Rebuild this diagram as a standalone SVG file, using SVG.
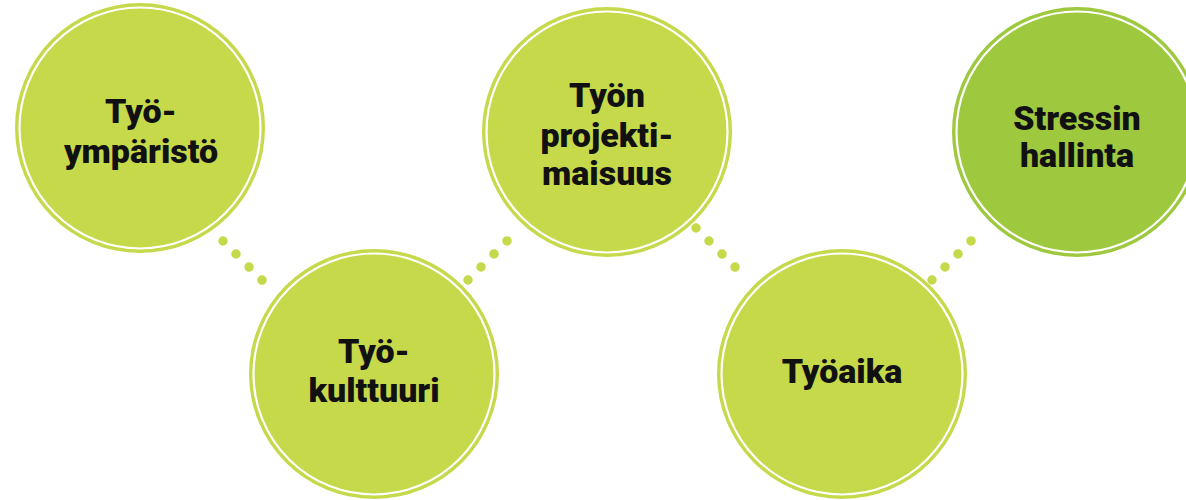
<svg xmlns="http://www.w3.org/2000/svg" width="1186" height="500" viewBox="0 0 1186 500">
<style>
.c{fill:#c6d94b}
.c5{fill:#9ec93f}
.ring{fill:none;stroke:#ffffff;stroke-width:2.2}
.t{font-family:Roboto,"Liberation Sans",sans-serif;font-weight:900;font-size:34px;fill:#111111;text-anchor:middle}
.dots{fill:none;stroke:#c6d94b;stroke-width:9.5;stroke-linecap:round;stroke-dasharray:0 18.4}
</style>
<rect width="1186" height="500" fill="#ffffff"/>
<g id="n1">
<circle class="c" cx="140" cy="128" r="125"/>
<circle class="ring" cx="140" cy="128" r="120.5"/>
<text class="t" x="141" y="123">Työ-</text>
<text class="t" x="141" y="163">ympäristö</text>
</g>
<g id="n2">
<circle class="c" cx="374" cy="374" r="125"/>
<circle class="ring" cx="374" cy="374" r="120.5"/>
<text class="t" x="374" y="363">Työ-</text>
<text class="t" x="374" y="402">kulttuuri</text>
</g>
<g id="n3">
<circle class="c" cx="607" cy="132" r="125"/>
<circle class="ring" cx="607" cy="132" r="120.5"/>
<text class="t" x="607" y="107">Työn</text>
<text class="t" x="607" y="147">projekti-</text>
<text class="t" x="607" y="185">maisuus</text>
</g>
<g id="n4">
<circle class="c" cx="842" cy="374" r="125"/>
<circle class="ring" cx="842" cy="374" r="120.5"/>
<text class="t" x="842" y="383">Työaika</text>
</g>
<g id="n5">
<circle class="c5" cx="1077" cy="132" r="125"/>
<circle class="ring" cx="1077" cy="132" r="120.5"/>
<text class="t" x="1077" y="130">Stressin</text>
<text class="t" x="1077" y="167">hallinta</text>
</g>
<g id="connectors">
<line class="dots" x1="223" y1="241" x2="275" y2="293"/>
<line class="dots" x1="468" y1="280" x2="520" y2="228"/>
<line class="dots" x1="696" y1="228" x2="748" y2="280"/>
<line class="dots" x1="932" y1="280" x2="984" y2="228"/>
</g>
</svg>
